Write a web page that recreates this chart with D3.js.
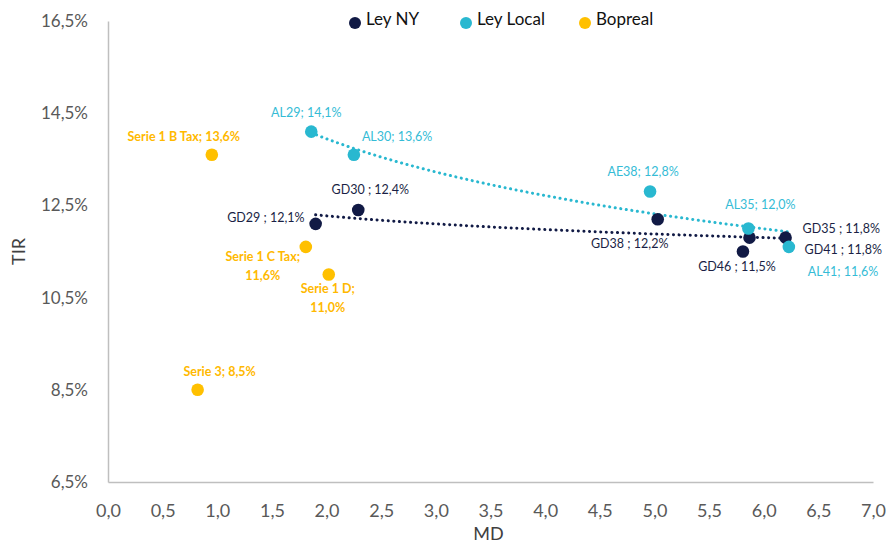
<!DOCTYPE html>
<html>
<head>
<meta charset="utf-8">
<script src="https://cdn.jsdelivr.net/npm/d3@7"></script>
<style>
  body { margin: 0; background: #fff; }
  text { font-family: Lato, "Open Sans", sans-serif; }
</style>
</head>
<body>
<script>
// data (MD, TIR in %)
const nyNames = ['GD29', 'GD30', 'GD38', 'GD46', 'GD41', 'GD35'];
const nyMD    = [1.90, 2.29, 5.03, 5.81, 5.87, 6.20];
const nyTIR   = [12.1, 12.4, 12.2, 11.5, 11.8, 11.8];

const localNames = ['AL29', 'AL30', 'AE38', 'AL35', 'AL41'];
const localMD    = [1.86, 2.25, 4.96, 5.86, 6.23];
const localTIR   = [14.1, 13.6, 12.8, 12.0, 11.6];

const bopNames = ['Serie 1 B Tax', 'Serie 1 C Tax', 'Serie 1 D', 'Serie 3'];
const bopMD    = [0.95, 1.81, 2.02, 0.82];
const bopTIR   = [13.6, 11.6, 11.0, 8.5];

const xTicks = [0, 0.5, 1, 1.5, 2, 2.5, 3, 3.5, 4, 4.5, 5, 5.5, 6, 6.5, 7];
const yTicks = [6.5, 8.5, 10.5, 12.5, 14.5, 16.5];
const legendNames = ['Ley NY', 'Ley Local', 'Bopreal'];

const navy = '#111a45', cyan = '#29b8d0', orange = '#ffc000';

// label placement (pixel offsets from the point)
const labelPos = {
  'GD29': [-11, -5, 'end'], 'GD30': [12, -19, 'middle'], 'GD38': [-28, 26, 'middle'],
  'GD46': [-6, 16, 'middle'], 'GD41': [55, 13, 'start'], 'GD35': [17, -8, 'start'],
  'AL29': [-5, -18, 'middle'], 'AL30': [8, -17, 'start'], 'AE38': [-7, -19, 'middle'],
  'AL35': [12, -23, 'middle'], 'AL41': [19, 26, 'start'],
  'Serie 1 B Tax': [-28, -17, 'middle'], 'Serie 1 C Tax': [-43, 11, 'middle'],
  'Serie 1 D': [-1, 15, 'middle'], 'Serie 3': [22, -17, 'middle']
};
const twoLines = ['Serie 1 C Tax', 'Serie 1 D'];

const width = 886, height = 545;
const margin = {left: 108, top: 21, right: 13, bottom: 63};

const loc = d3.formatLocale({decimal: ',', thousands: '.', grouping: [3], currency: ['$', '']});
const f1 = loc.format('.1f');

const svg = d3.select('body').append('svg')
  .attr('width', width)
  .attr('height', height);

const x = d3.scaleLinear().domain([0, 7]).range([margin.left, width - margin.right]);
const y = d3.scaleLinear().domain([6.5, 16.5]).range([height - margin.bottom, margin.top]);

// axes
svg.append('g')
  .attr('transform', 'translate(' + margin.left + ',0)')
  .call(d3.axisLeft(y).tickValues(yTicks).tickSize(0).tickPadding(20).tickFormat(d => f1(d) + '%'))
  .call(g => g.select('.domain').attr('stroke', '#bfbfbf').attr('stroke-width', 1.5))
  .selectAll('text')
  .attr('fill', '#595959')
  .style('font-size', '17px');

svg.append('g')
  .attr('transform', 'translate(0,' + (height - margin.bottom) + ')')
  .call(d3.axisBottom(x).tickValues(xTicks).tickSize(0).tickPadding(22).tickFormat(f1))
  .call(g => g.select('.domain').attr('stroke', '#bfbfbf').attr('stroke-width', 1.5))
  .selectAll('text')
  .attr('fill', '#595959')
  .style('font-size', '18px');

svg.append('text')
  .attr('x', (margin.left + width - margin.right) / 2 - 2)
  .attr('y', 540)
  .attr('text-anchor', 'middle')
  .attr('fill', '#404040')
  .style('font-size', '18px')
  .text('MD');

svg.append('text')
  .attr('transform', 'translate(25,' + ((margin.top + height - margin.bottom) / 2) + ') rotate(-90)')
  .attr('text-anchor', 'middle')
  .attr('fill', '#404040')
  .style('font-size', '18px')
  .text('TIR');

// log trendline (least squares on ln x)
function logFit(xs, ys) {
  let lx = xs.map(Math.log);
  let mx = d3.mean(lx), my = d3.mean(ys);
  let sxy = 0, sxx = 0;
  for (let i = 0; i < xs.length; i++) {
    sxy += (lx[i] - mx) * (ys[i] - my);
    sxx += (lx[i] - mx) * (lx[i] - mx);
  }
  let b = sxy / sxx;
  let a = my - b * mx;
  let lo = d3.min(xs), hi = d3.max(xs);
  let pts = [];
  for (let i = 0; i <= 60; i++) {
    let xv = lo + (hi - lo) * i / 60;
    pts.push([xv, a + b * Math.log(xv)]);
  }
  return pts;
}

const line = d3.line().x(d => x(d[0])).y(d => y(d[1]));

function trend(xs, ys, color) {
  svg.append('path')
    .datum(logFit(xs, ys))
    .attr('d', line)
    .attr('fill', 'none')
    .attr('stroke', color)
    .attr('stroke-width', 3)
    .attr('stroke-linecap', 'round')
    .attr('stroke-dasharray', '0.1,5.5');
}
trend(localMD, localTIR, cyan);
trend(nyMD, nyTIR, navy);

// series
function series(names, xs, ys, color, labelColor, bold) {
  const data = names.map((n, i) => ({name: n, x: xs[i], y: ys[i]}));
  svg.append('g').selectAll('circle')
    .data(data)
    .join('circle')
    .attr('cx', d => x(d.x))
    .attr('cy', d => y(d.y))
    .attr('r', 6.3)
    .attr('fill', color);

  svg.append('g').selectAll('text')
    .data(data)
    .join('text')
    .attr('x', d => x(d.x) + labelPos[d.name][0])
    .attr('y', d => y(d.y) + labelPos[d.name][1])
    .attr('text-anchor', d => labelPos[d.name][2])
    .attr('dominant-baseline', 'middle')
    .attr('fill', labelColor)
    .style('font-size', '12.5px')
    .style('font-weight', bold ? 'bold' : 'normal')
    .each(function(d) {
      let sep = bold ? '; ' : ' ; ';
      if (names === localNames) sep = '; ';
      let t = d3.select(this);
      if (twoLines.includes(d.name)) {
        t.append('tspan').text(d.name + ';');
        t.append('tspan').attr('x', x(d.x) + labelPos[d.name][0]).attr('dy', 19).text(f1(d.y) + '%');
      } else {
        t.text(d.name + sep + f1(d.y) + '%');
      }
    });
}
series(nyNames, nyMD, nyTIR, navy, '#1a1f45', false);
series(localNames, localMD, localTIR, cyan, '#35bcd6', false);
series(bopNames, bopMD, bopTIR, orange, '#ffb900', true);

// legend
const legX = [355, 466, 585];
const legColors = [navy, cyan, orange];
legendNames.forEach((n, i) => {
  svg.append('circle').attr('cx', legX[i]).attr('cy', 23).attr('r', 6).attr('fill', legColors[i]);
  svg.append('text')
    .attr('x', legX[i] + 11)
    .attr('y', 21)
    .attr('dominant-baseline', 'middle')
    .attr('fill', '#111')
    .style('font-size', '17px')
    .text(n);
});
</script>
</body>
</html>
